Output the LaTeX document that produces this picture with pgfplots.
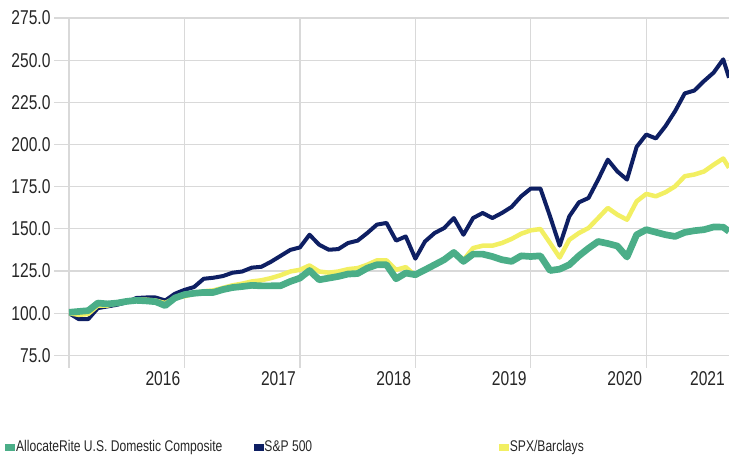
\documentclass[border=0pt]{standalone}
\usepackage{fontspec}
\setmainfont{Liberation Sans}[FakeStretch=0.78]
\usepackage{pgfplots}
\pgfplotsset{compat=1.18}
\usepackage{pgfplotstable}

\definecolor{arGreen}{HTML}{4BAE88}
\definecolor{spNavy}{HTML}{0E1F63}
\definecolor{spxYellow}{HTML}{F2EF62}
\definecolor{gridGray}{HTML}{D9D9D9}
\definecolor{txt}{HTML}{262626}

% monthly growth of 100, month 0 = start of 2015
\pgfplotstableread{
m alloc sp spx
0 100.5 100 100
1 101 96.5 99
2 101.5 96.5 99.5
3 106 103 104.5
4 105.5 104 104.5
5 106 105 106
6 107 106.5 107
7 107.6 109 108
8 107.3 109.3 108
9 106.8 109.3 107.5
10 104.5 107.5 106
11 109 111.5 109
12 111 113.8 110
13 111.8 115.5 111.5
14 112.3 120.4 113
15 112.3 121 113.5
16 114 122 115
17 115.2 124 116.5
18 115.8 124.7 117.5
19 116.5 127 118.8
20 116.2 127.5 119.5
21 116.2 130.5 120.8
22 116.3 134 122.5
23 118.8 137.5 124.7
24 120.8 139 125.7
25 125.3 146.5 128.3
26 119.8 140.6 124.7
27 120.8 137.6 124
28 121.8 138 124.7
29 123.2 141.6 126.1
30 123.5 143 126.7
31 126.7 147.5 128.7
32 128.7 152.5 131.3
33 128.7 153.5 131.3
34 120.4 143 125.7
35 123.8 145.5 127.3
36 122.8 132.3 122.2
37 125.7 142.5 125.7
38 128.7 147.5 128.7
39 131.7 150.5 131.7
40 136 156.4 135.5
41 130.7 146.5 131.5
42 135 156.4 138.6
43 135 159.4 140
44 133.6 156.4 140
45 131.7 159.4 141.6
46 130.7 163 144
47 134 169.3 147.1
48 133.6 173.9 149.1
49 134 173.9 149.9
50 125.3 157.4 141.6
51 126.1 140 133
52 128.7 157.4 143.5
53 134 165.7 147.5
54 138.5 168.3 150.5
55 142.5 179.2 156.4
56 141.3 191 162.4
57 139.8 184 158.4
58 133.3 179.2 155.4
59 146.5 198.6 166.3
60 149.5 205.9 170.7
61 148 203.6 169.3
62 146.5 210.9 171.7
63 145.5 219.8 175.2
64 147.9 230.3 181.2
65 148.9 232 182.2
66 149.5 237.6 184
67 151.1 242.6 188
68 151 250.5 191.7
68.6 148.5 239.6 186.2
}\perf

\begin{document}
\begin{tikzpicture}
\useasboundingbox (-69pt,-92pt) rectangle (660pt,368pt);
\begin{axis}[
    scale only axis,
    width=660pt, height=350pt,
    xmin=0, xmax=68.6,
    ymin=67.5, ymax=275,
    axis line style={draw=none},
    xtick={0,12,24,36,48,60},
    xticklabels={},
    ytick={75,100,...,275},
    xmajorgrids, ymajorgrids,
    grid style={gridGray, line width=1.2pt},
    tick align=outside,
    major tick length=15pt,
    xtick style={draw=none},
    ytick style={gridGray, line width=1.2pt},
    ticklabel style={font=\fontsize{20}{22}\selectfont, text=txt},
    yticklabel style={/pgf/number format/.cd, fixed, fixed zerofill,
        precision=1, assume math mode=true},
    extra x ticks={12,24,36,48,60,68.6},
    extra x tick labels={2016,2017,2018,2019,2020,2021},
    extra x tick style={grid=none, tick style={draw=none},
        xticklabel style={anchor=north east, xshift=-3pt, yshift=13pt, inner sep=1pt}},
    legend columns=3,
    legend image code/.code={\fill[#1] (0pt,-3pt) rectangle (9pt,3pt);},
    legend style={at={(0,0)}, anchor=west, xshift=-64pt, yshift=-79pt,
        draw=none, fill=none, inner sep=0pt,
        font=\fontsize{15.5}{17}\selectfont, text=txt,
        nodes={inner sep=1.5pt},
        /tikz/every even column/.append style={column sep=0pt}},
    legend cell align=left,
]
\addplot[spNavy, line width=4pt, line join=round, forget plot] table[x=m, y=sp] {\perf};
\addplot[spxYellow, line width=4.5pt, line join=round, forget plot] table[x=m, y=spx] {\perf};
\addplot[arGreen, line width=6.7pt, line join=round, forget plot] table[x=m, y=alloc] {\perf};

\addlegendimage{arGreen}
\addlegendentry{\makebox[236pt][l]{AllocateRite U.S. Domestic Composite}}
\addlegendimage{spNavy}
\addlegendentry{\makebox[233pt][l]{S\&P 500}}
\addlegendimage{spxYellow}
\addlegendentry{SPX/Barclays}
\end{axis}
\end{tikzpicture}
\end{document}
